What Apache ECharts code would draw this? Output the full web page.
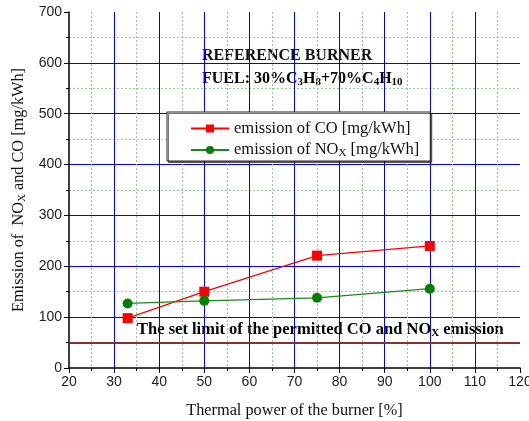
<!DOCTYPE html>
<html><head><meta charset="utf-8">
<script src="https://cdn.jsdelivr.net/npm/echarts@6/dist/echarts.min.js"></script>
<style>html,body{margin:0;padding:0;background:#fff}#c{width:529px;height:421px}</style>
</head><body><div id="c"></div>
<script>
const thermalPower = [33, 50, 75, 100];
const coEmission = [98, 150, 221, 240];
const noxEmission = [127, 132, 138, 156];
const limitValue = 50;
const xTicks = [20,30,40,50,60,70,80,90,100,110,120];
const yTicks = [0,100,200,300,400,500,600,700];

const serif = '"Liberation Serif","Times New Roman",serif';
const sans = '"Liberation Sans",Arial,sans-serif';
const chart = echarts.init(document.getElementById('c'));
function richSet(size, bold){
  const w = bold ? 'bold' : 'normal';
  return {
    a:{fontFamily:serif,fontWeight:w,fontSize:size,color:'#111',lineHeight:size+2},
    s:{fontFamily:serif,fontWeight:w,fontSize:Math.round(size*0.68),color:'#111',lineHeight:size+2,padding:[Math.round(size*0.45),0,0,0]}
  };
}
chart.setOption({
  animation:false,
  grid:{left:69,right:9,top:12,bottom:53,containLabel:false,outerBoundsMode:'none'},
  xAxis:{type:'value',min:xTicks[0],max:xTicks[xTicks.length-1],interval:10,
    name:'Thermal power of the burner [%]',nameLocation:'middle',nameGap:35,
    nameTextStyle:{fontFamily:serif,fontSize:16.3,color:'#111'},
    axisLine:{show:true,lineStyle:{color:'#000',width:1.5}},
    axisTick:{show:true,length:5,lineStyle:{color:'#000'}},
    minorTick:{show:true,splitNumber:2,length:3,lineStyle:{color:'#000'}},
    axisLabel:{fontFamily:sans,fontSize:14,color:'#222',margin:7},
    splitLine:{show:true,showMinLine:false,showMaxLine:false,lineStyle:{color:'#0000ff',width:1}},
    minorSplitLine:{show:true,lineStyle:{color:'#8fcf8f',type:[2,2],width:1}}
  },
  yAxis:{type:'value',min:yTicks[0],max:yTicks[yTicks.length-1],interval:100,
    name:'{a|Emission of  NO}{s|X}{a| and CO [mg/kWh]}',nameLocation:'middle',nameGap:40,
    nameTextStyle:{rich:richSet(16.3,false)},
    axisLine:{show:true,lineStyle:{color:'#000',width:1.5}},
    axisTick:{show:true,length:5,lineStyle:{color:'#000'}},
    minorTick:{show:true,splitNumber:2,length:3,lineStyle:{color:'#000'}},
    axisLabel:{fontFamily:sans,fontSize:14,color:'#222',margin:7},
    splitLine:{show:true,showMinLine:false,showMaxLine:false,lineStyle:{color:'#0000ff',width:1}},
    minorSplitLine:{show:true,lineStyle:{color:'#8fcf8f',type:[2,2],width:1}}
  },
  legend:{orient:'vertical',left:167,top:112,padding:[8,11,2,23],itemGap:4,
    itemWidth:38,itemHeight:10,
    backgroundColor:'#fff',borderColor:'#222',borderWidth:1,
    shadowColor:'rgba(0,0,0,0.55)',shadowOffsetX:1.5,shadowOffsetY:1.5,
    data:['co','nox'],
    formatter:function(n){return n==='co'?'{a|emission of CO [mg/kWh]}':'{a|emission of NO}{s|X}{a| [mg/kWh]}';},
    textStyle:{rich:richSet(16.5,false)}
  },
  series:[
    {name:'co',type:'line',data:thermalPower.map((x,i)=>[x,coEmission[i]]),
      symbol:'rect',symbolSize:10,itemStyle:{color:'#ff0000'},lineStyle:{color:'#ff0000',width:1.3},
      markLine:{silent:true,symbol:'none',data:[{yAxis:limitValue}],
        lineStyle:{color:'#8b2e2e',width:2,type:'solid'},
        label:{show:false}}
    },
    {name:'nox',type:'line',data:thermalPower.map((x,i)=>[x,noxEmission[i]]),
      symbol:'circle',symbolSize:10,itemStyle:{color:'#008000'},lineStyle:{color:'#1a8a1a',width:1.3}}
  ],
  graphic:[
    {type:'text',left:202,top:48,style:{text:'REFERENCE BURNER',font:'bold 16px '+serif,fill:'#111'}},
    {type:'text',left:202,top:70,style:{text:'{a|FUEL: 30%C}{s|3}{a|H}{s|8}{a|+70%C}{s|4}{a|H}{s|10}',
      rich:richSet(16,true)}},
    {type:'text',left:137,top:321,style:{text:'{a|The set limit of the permitted CO and NO}{s|X}{a| emission}',
      rich:richSet(16.5,true)}}
  ]
});
</script></body></html>
